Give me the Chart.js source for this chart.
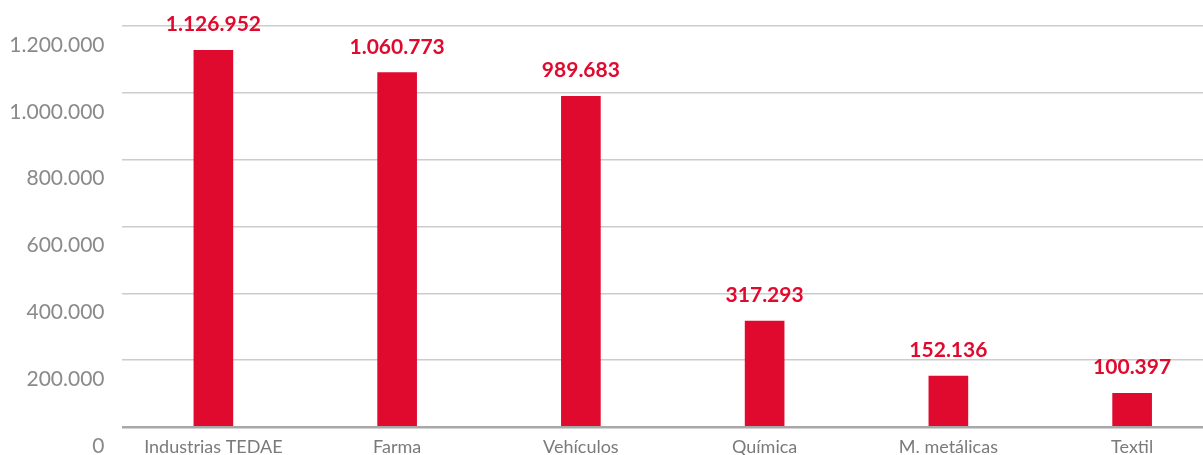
<!DOCTYPE html>
<html>
<head>
<meta charset="utf-8">
<script src="https://cdn.jsdelivr.net/npm/chart.js@4"></script>
<style>
  html, body { margin: 0; padding: 0; background: #fff; overflow: hidden; }
  #wrap { width: 1203px; height: 455px; overflow: hidden; }
</style>
</head>
<body>
<div id="wrap"><canvas id="chart" width="1224" height="455"></canvas></div>
<script>
const categories = ['Industrias TEDAE', 'Farma', 'Vehículos', 'Química', 'M. metálicas', 'Textil'];
const values = [1126952, 1060773, 989683, 317293, 152136, 100397];
const yTicks = [0, 200000, 400000, 600000, 800000, 1000000, 1200000];

const red = '#e00a2e';
const font = "Lato, 'Open Sans', sans-serif";

// puntos como separador de miles
function fmt(n) {
    return String(n).replace(/\B(?=(\d{3})+(?!\d))/g, '.');
}

const valueLabels = {
    id: 'valueLabels',
    afterDatasetsDraw(chart) {
        const ctx = chart.ctx;
        const meta = chart.getDatasetMeta(0);
        ctx.save();
        ctx.font = 'bold 21px ' + font;
        ctx.fillStyle = red;
        ctx.textAlign = 'center';
        ctx.textBaseline = 'alphabetic';
        meta.data.forEach((bar, i) => {
            ctx.fillText(fmt(values[i]), bar.x, bar.y - 19);
        });
        ctx.restore();
    }
};

new Chart(document.getElementById('chart').getContext('2d'), {
    type: 'bar',
    data: {
        labels: categories,
        datasets: [{
            data: values,
            backgroundColor: red,
            barThickness: 39
        }]
    },
    options: {
        responsive: false,
        animation: false,
        layout: { padding: { top: 26, right: 0, bottom: 0, left: 0 } },
        plugins: {
            legend: { display: false },
            tooltip: { enabled: false }
        },
        scales: {
            x: {
                grid: { display: false },
                border: { display: false },
                ticks: {
                    color: '#7a7a7a',
                    font: { family: font, size: 18 },
                    padding: 1,
                    maxRotation: 0
                },
                afterFit(scale) { scale.height = 28; }
            },
            y: {
                min: 0,
                max: 1200000,
                afterBuildTicks(scale) {
                    scale.ticks = yTicks.map(v => ({ value: v }));
                },
                grid: {
                    drawTicks: false,
                    color: c => c.tick && c.tick.value === 0 ? '#a8a8a8' : '#cccccc',
                    lineWidth: c => c.tick && c.tick.value === 0 ? 2.5 : 1.5
                },
                border: { display: false },
                ticks: {
                    color: '#8a8a8a',
                    font: { family: font, size: 21 },
                    padding: 17,
                    labelOffset: 19,
                    callback: v => fmt(v)
                },
                afterFit(scale) {
                    scale.width = 121.5;
                    scale.paddingTop = 0;
                    scale.paddingBottom = 0;
                }
            }
        }
    },
    plugins: [valueLabels]
});
</script>
</body>
</html>
